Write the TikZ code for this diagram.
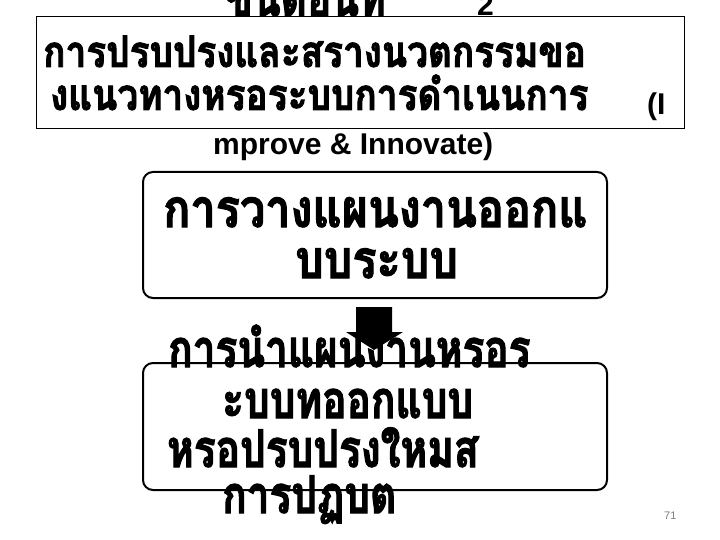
\documentclass[tikz,border=0pt]{standalone}
\usepackage{fontspec}
\usetikzlibrary{calc}
\setmainfont{Liberation Sans}
\newfontfamily\thaifont[Script=Thai, FakeStretch=0.85, BoldFeatures={FakeBold=2}]{Loma}
\newfontfamily\thaifontn[Script=Thai, FakeStretch=0.78, BoldFeatures={FakeBold=2}]{Loma}
\begin{document}
\begin{tikzpicture}[x=1pt,y=-1pt,
  thaiA/.style={font=\thaifont\bfseries\fontsize{43.5}{43.5}\selectfont, inner sep=0pt, anchor=base west},
  thaiB/.style={font=\thaifont\bfseries\fontsize{53}{53}\selectfont, inner sep=0pt, anchor=base west},
  thaiC/.style={font=\thaifontn\bfseries\fontsize{52}{52}\selectfont, inner sep=0pt, anchor=base west},
  latin/.style={font=\bfseries\fontsize{30}{30}\selectfont, inner sep=0pt, anchor=base west},
  stepbox/.style={draw=black, line width=2pt, rounded corners=10pt},
  blockarrow/.style={fill=black, draw=none}]
\useasboundingbox (0,0) rectangle (720,540);
\fill[white] (0,0) rectangle (720,540);
% title frame
\draw[line width=1pt] (36,17) rectangle (684,129);
\node[thaiC] (t0) at (225,16) {ขนตอนท};
\node[latin] (t0b) at (477,16) {2};
\node[thaiA] (t1) at (43,67) {การปรบปรงและสรางนวตกรรมขอ};
\node[thaiA] (t2) at (50,110) {งแนวทางหรอระบบการดำเนนการ};
\node[latin] (t2b) at (647,115) {(I};
\node[latin] (t3) at (213,155) {mprove \& Innovate)};
% box 1
\draw[stepbox] (143,172) rectangle (607,298);
\coordinate (b1) at (375,298);
\node[thaiB] (b1a) at (163,227) {การวางแผนงานออกแ};
\node[thaiB] (b1b) at (295,278) {บบระบบ};
% box 2
\draw[stepbox] (143,363) rectangle (607,490);
\coordinate (b2) at (375,363);
% arrow
\fill[blockarrow] ($(b1)+(-19,9)$) -- ($(b1)+(17,9)$) -- ($(b1)+(17,34)$) -- ($(b1)+(28,34)$) -- ($(b2)+(-1,-13)$) -- ($(b1)+(-29,34)$) -- ($(b1)+(-19,34)$) -- cycle;
\node[thaiC] (b2a) at (168,367) {การนำแผนงานหรอร};
\node[thaiC] (b2b) at (222,418) {ะบบทออกแบบ};
\node[thaiC] (b2c) at (167,467) {หรอปรบปรงใหมส};
\node[thaiC] (b2d) at (222,513) {การปฏบต};
\node[font=\fontsize{11}{11}\selectfont, text=black!50, inner sep=0pt, anchor=base west] (pg) at (664,519) {71};
\end{tikzpicture}
\end{document}
